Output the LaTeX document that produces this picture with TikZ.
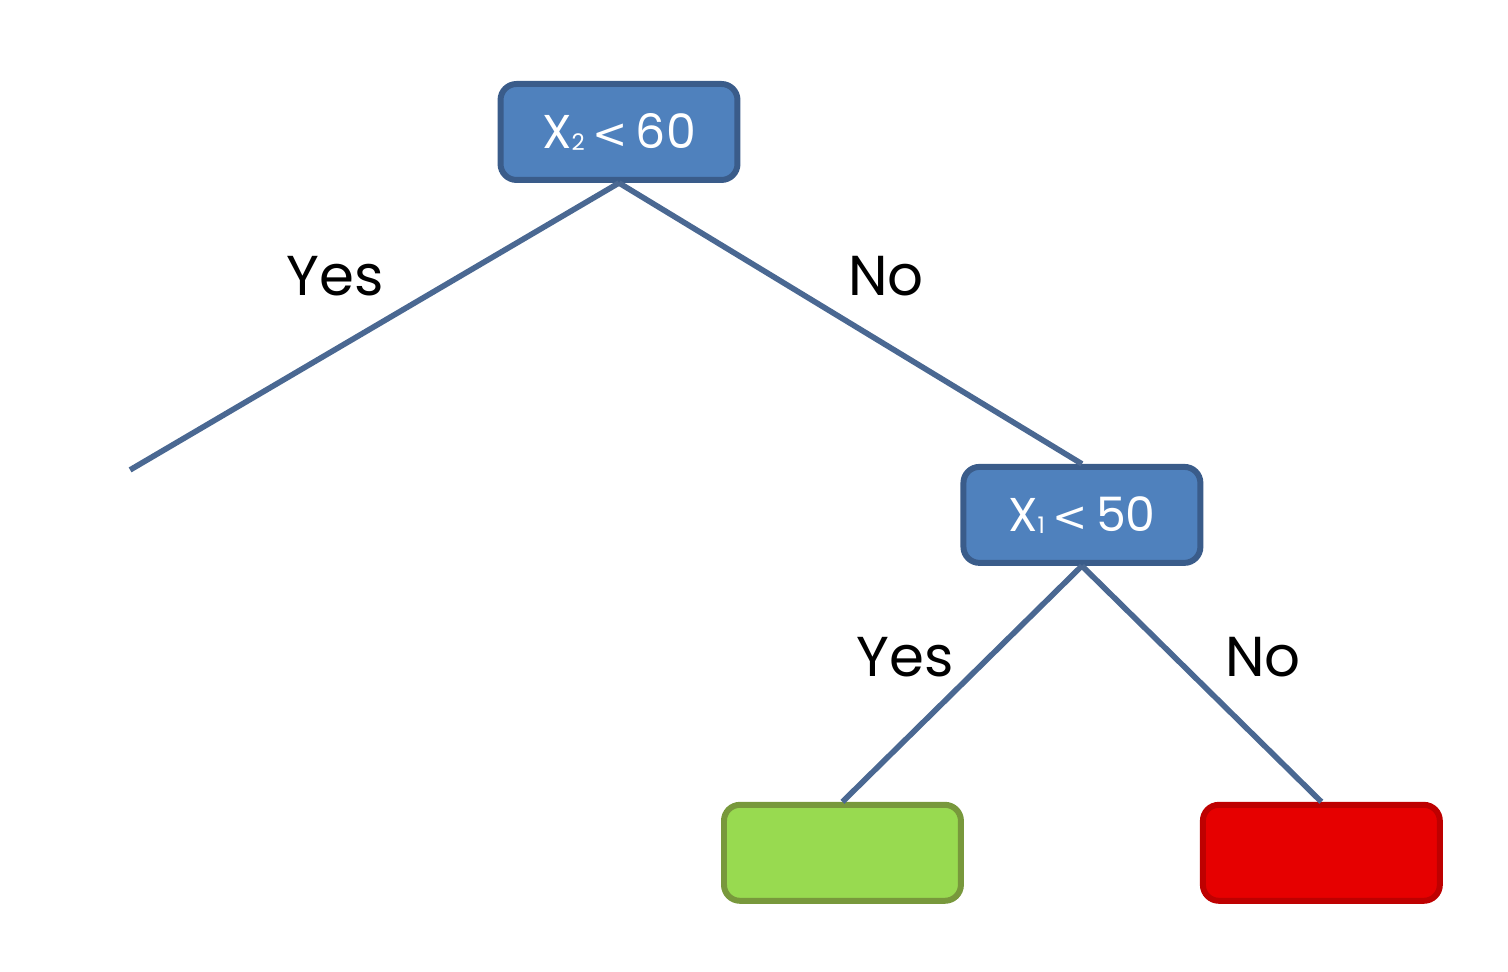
\documentclass[tikz,border=0pt]{standalone}
\usepackage{fontspec}
\setmainfont{Poppins}
\newfontfamily\relfont{DejaVu Sans}
\usetikzlibrary{trees}
\definecolor{splitfill}{RGB}{79,129,189}
\definecolor{splitdraw}{RGB}{58,92,138}
\definecolor{edgeblue}{RGB}{74,104,146}
\definecolor{yesfill}{RGB}{152,218,80}
\definecolor{yesdraw}{RGB}{120,152,60}
\definecolor{nofill}{RGB}{230,0,0}
\definecolor{nodraw}{RGB}{190,0,0}
\newcommand{\lessthan}{\,{\relfont\fontsize{24}{28}\selectfont <}\,}
\newcommand{\varsub}[1]{\raisebox{-0.04em}{\fontsize{13}{13}\selectfont #1}}
\begin{document}
\begin{tikzpicture}[
        x=0.02cm, y=-0.02cm,
        every node/.style={font=\fontsize{32}{38}\selectfont},
        level 1/.style={level distance=6.64cm, sibling distance=19.04cm},
        level 2/.style={level distance=5.74cm, sibling distance=9.58cm},
        edge from parent/.style={draw=edgeblue, line width=3.2pt},
        parent anchor=south, child anchor=north,
        ]
        \tikzstyle{split} = [draw=splitdraw, fill=splitfill, line width=3.4pt, rounded corners=0.32cm, minimum width=4.74cm, minimum height=1.92cm, text=white, font=\fontsize{27}{32}\selectfont, anchor=north];
        \tikzstyle{yesleaf} = [split, draw=yesdraw, fill=yesfill];
        \tikzstyle{noleaf} = [split, draw=nodraw, fill=nofill];
        \useasboundingbox (0,0) rectangle (1508,972);
        \node [split] (root) at (619,81) {X\varsub{2}\lessthan 60}
            child [xshift=-0.26cm, level distance=6.76cm, child anchor=center] {coordinate (yesend)}
            child [xshift=-0.26cm] {node [split] (split2) {X\varsub{1}\lessthan 50}
                child {node [yesleaf] (leafyes) {}}
                child {node [noleaf] (leafno) {}}
            };
        % branch labels
        \node (yesroot) at (335,276) {Yes};
        \node (noroot) at (886,276) {No};
        \node (yessplit) at (905,657) {Yes};
        \node (nosplit) at (1263,657) {No};
\end{tikzpicture}
\end{document}
